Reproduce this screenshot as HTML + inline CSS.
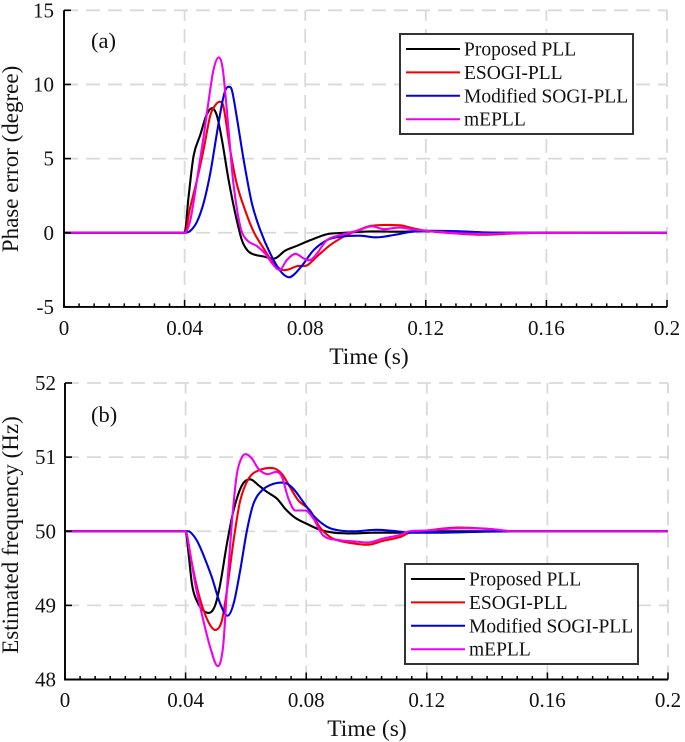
<!DOCTYPE html>
<html>
<head>
<meta charset="utf-8">
<title>PLL comparison</title>
<style>
html,body{margin:0;padding:0;background:#fff;width:685px;height:742px;overflow:hidden}
svg{display:block}
text{font-family:"Liberation Serif",serif;fill:#111;font-size:21px}
</style>
</head>
<body>
<svg id="chart" width="685" height="742" viewBox="0 0 685 742" xmlns="http://www.w3.org/2000/svg">
  <g id="panelA"></g>
  <g id="panelB"></g>
</svg>
<script>
var xTicks = [0, 0.04, 0.08, 0.12, 0.16, 0.2];
var xTickLabels = ['0', '0.04', '0.08', '0.12', '0.16', '0.2'];
var xMinorStep = 0.005;
var phaseTicks = [-5, 0, 5, 10, 15];
var freqTicks = [48, 49, 50, 51, 52];
var seriesNames = ['Proposed PLL', 'ESOGI-PLL', 'Modified SOGI-PLL', 'mEPLL'];
var seriesColors = ['#000000', '#f00000', '#0000e0', '#f000f0'];

var phaseProposedT = [0,.04,.0413,.043,.0452,.0472,.0491,.0507,.0524,.0546,.0568,.059,.0609,.0629,.0662,.07,.0734,.0773,.0817,.0872,.0915,.0971,.1026,.1114,.12,.13,.15,.2];
var phaseProposedV = [0,0,2.4,5.2,6.6,7.9,8.4,7.9,6.25,3.55,1.3,-.5,-1.2,-1.46,-1.6,-1.73,-1.2,-.88,-.5,-.1,-.02,.05,.09,.07,.1,.02,0,0];
var phaseEsogiT = [0,.04,.0419,.0441,.0463,.0485,.0502,.0516,.0529,.0551,.0573,.0601,.0629,.0662,.0695,.0723,.0745,.0773,.0806,.0839,.0883,.0927,.0971,.102,.1114,.1158,.12,.1303,.139,.149,.16,.2];
var phaseEsogiV = [0,0,1.75,3.55,5.6,7.9,8.6,8.83,8.5,5.6,3.3,1.5,.07,-1.05,-2.07,-2.5,-2.47,-2.25,-2.2,-1.6,-.83,-.27,.13,.47,.5,.3,.13,-.05,-.13,-.05,0,0];
var phaseModifiedT = [0,.04,.0419,.0441,.0463,.0485,.0507,.0524,.0535,.0546,.0557,.0573,.0596,.0623,.0651,.0684,.0717,.0745,.0767,.0795,.0828,.0872,.0915,.0982,.1037,.1092,.1148,.12,.13,.14,.15,.2];
var phaseModifiedV = [0,0,.13,.74,2,4,6.7,8.7,9.6,9.84,9.6,7.8,4.9,2,.18,-1.4,-2.56,-3,-2.74,-2.07,-1.17,-.5,-.27,-.2,-.31,-.16,.05,.13,.11,.02,0,0];
var phaseMepllT = [0,.04,.0419,.0441,.0463,.048,.0496,.0513,.0527,.0546,.0562,.0585,.0607,.064,.0667,.0695,.0717,.0739,.0767,.0795,.0817,.0839,.0872,.0916,.0971,.102,.1059,.1114,.1158,.12,.13,.14,.15,.2];
var phaseMepllV = [0,0,.85,3.55,6.47,8.94,11,11.82,10.97,6.9,3.3,.4,-.5,-.9,-1.4,-2.18,-2.5,-1.84,-1.42,-1.73,-1.84,-1.4,-.5,-.16,.13,.43,.25,.35,.22,.13,-.03,-.08,-.02,0];

var freqProposedT = [0,.04,.041,.0421,.0432,.0454,.048,.0498,.0515,.0537,.0559,.0587,.0614,.0642,.067,.0703,.0731,.0764,.0802,.0846,.0891,.0957,.102,.11,.12,.2];
var freqProposedV = [50,50,49.69,49.29,49.11,48.95,48.9,49,49.29,49.83,50.28,50.62,50.7,50.62,50.53,50.44,50.3,50.18,50.1,50.02,49.98,49.97,49.98,49.98,50,50];
var freqEsogiT = [0,.04,.0415,.0438,.046,.0482,.0501,.052,.0537,.0559,.0581,.0609,.0642,.0692,.072,.0747,.0775,.0813,.0846,.088,.0911,.0967,.101,.1054,.111,.1143,.12,.1299,.1409,.1486,.2];
var freqEsogiV = [50,50,49.69,49.24,48.93,48.73,48.67,48.79,49.2,49.87,50.41,50.71,50.82,50.85,50.77,50.59,50.41,50.28,50.05,49.92,49.87,49.83,49.82,49.87,49.92,49.98,50.01,50.05,50.03,50,50];
var freqModifiedT = [0,.04,.0415,.0438,.046,.0487,.0515,.0539,.0559,.0581,.0603,.0625,.0653,.0692,.0731,.0758,.0791,.0824,.0869,.0911,.0967,.1032,.11,.1143,.1243,.135,.15,.2];
var freqModifiedV = [50,50,49.99,49.87,49.67,49.38,49.02,48.86,49.02,49.47,50,50.37,50.55,50.64,50.65,50.57,50.39,50.21,50.06,50.01,50,50.02,50,49.98,49.98,49.99,50,50];
var freqMepllT = [0,.04,.041,.0432,.0454,.0482,.0507,.0524,.0537,.0554,.057,.0587,.0601,.062,.0642,.067,.0703,.072,.0741,.0764,.0797,.0824,.0857,.0911,.0967,.101,.1054,.111,.1143,.12,.13,.141,.1486,.2];
var freqMepllV = [50,50,49.83,49.29,48.88,48.43,48.18,48.43,49.2,50.14,50.77,51,51.04,50.98,50.84,50.77,50.8,50.73,50.44,50.28,50.28,50.17,49.94,49.88,49.86,49.85,49.9,49.95,50,50.01,50.04,50.03,50,50];

var NS = 'http://www.w3.org/2000/svg';
function mk(parent, tag, attrs, txt) {
  var el = document.createElementNS(NS, tag);
  for (var k in attrs) el.setAttribute(k, attrs[k]);
  if (txt !== undefined) el.textContent = txt;
  parent.appendChild(el);
  return el;
}
function smoothPath(ts, vs, sx, sy) {
  var p = ts.map(function (t, i) { return [sx(t), sy(vs[i])]; });
  var d = 'M' + p[0][0].toFixed(2) + ' ' + p[0][1].toFixed(2);
  for (var i = 0; i < p.length - 1; i++) {
    var a = p[Math.max(i - 1, 0)], b = p[i], c = p[i + 1], e = p[Math.min(i + 2, p.length - 1)];
    var dx = c[0] - b[0];
    var m1 = (c[1] - a[1]) / Math.max(c[0] - a[0], .01);
    var m2 = (e[1] - b[1]) / Math.max(e[0] - b[0], .01);
    if (i === 0 || b[1] === a[1]) m1 = 0;
    if (c[1] === e[1]) m2 = 0;
    if (b[1] === c[1]) { m1 = 0; m2 = 0; }
    d += 'C' + (b[0] + dx / 3).toFixed(2) + ' ' + (b[1] + m1 * dx / 3).toFixed(2) + ' ' +
      (c[0] - dx / 3).toFixed(2) + ' ' + (c[1] - m2 * dx / 3).toFixed(2) + ' ' +
      c[0].toFixed(2) + ' ' + c[1].toFixed(2);
  }
  return d;
}
function drawPanel(cfg) {
  var g = cfg.group;
  var sx = function (t) { return cfg.x0 + (t / 0.2) * (cfg.x1 - cfg.x0); };
  var sy = function (v) { return cfg.yBottom + (v - cfg.yMin) / (cfg.yMax - cfg.yMin) * (cfg.yTop - cfg.yBottom); };

  xTicks.forEach(function (t) {
    if (t === 0) return;
    var l = mk(g, 'line', { x1: sx(t), x2: sx(t), y1: cfg.yBottom, y2: cfg.yTop, stroke: '#d9d9d9', 'stroke-width': 1.8, 'stroke-dasharray': '14 8' });
    
    
  });
  cfg.yTicks.forEach(function (v) {
    if (v === cfg.yMin) return;
    var l = mk(g, 'line', { x1: cfg.x0, x2: cfg.x1, y1: sy(v), y2: sy(v), stroke: '#d9d9d9', 'stroke-width': 1.8, 'stroke-dasharray': '14 8' });
    
    
  });

  cfg.series.forEach(function (s, i) {
    var p = mk(g, 'path', { d: smoothPath(s[0], s[1], sx, sy), fill: 'none', stroke: seriesColors[i], 'stroke-width': 2.1, 'stroke-linejoin': 'round' });
    
    
  });

  var ax = mk(g, 'path', { d: 'M' + cfg.x0 + ' ' + cfg.yTop + 'V' + cfg.yBottom + 'H' + cfg.x1, fill: 'none', stroke: '#000', 'stroke-width': 1.9 });
  
  

  for (var k = 0; k * xMinorStep <= 0.2001; k++) {
    var tv = k * xMinorStep;
    var major = k % 8 === 0;
    var tk = mk(g, 'line', { x1: sx(tv), x2: sx(tv), y1: cfg.yBottom, y2: cfg.yBottom - (major ? 7 : 3.5), stroke: '#000', 'stroke-width': 1.5 });
    
    
  }
  xTicks.forEach(function (t, i) {
    var lb = mk(g, 'text', { x: sx(t), y: cfg.xLabelY, 'text-anchor': 'middle' }, xTickLabels[i]);
    
    
  });
  cfg.yTicks.forEach(function (v) {
    var tk = mk(g, 'line', { x1: cfg.x0, x2: cfg.x0 + 7, y1: sy(v), y2: sy(v), stroke: '#000', 'stroke-width': 1.6 });
    
    
    var lb = mk(g, 'text', { x: cfg.yLabelX, y: sy(v) + 7, 'text-anchor': 'end' }, String(v));
    
    
  });

  var yt = mk(g, 'text', { x: 0, y: 0, 'text-anchor': 'middle', transform: 'translate(' + cfg.yTitleX + ' ' + cfg.yTitleY + ') rotate(-90)' }, cfg.yTitle);
  
  
  yt.style.fontSize = '23px';
  var xt = mk(g, 'text', { x: cfg.xTitleX, y: cfg.xTitleY, 'text-anchor': 'middle' }, 'Time (s)');
  
  
  xt.style.fontSize = '23.5px';
  var pl = mk(g, 'text', { x: cfg.panelX, y: cfg.panelY }, cfg.panelLabel);
  
  
  pl.style.fontSize = '22.5px';

  var lg = mk(g, 'g', {});
  
  
  mk(lg, 'rect', { x: cfg.lx, y: cfg.ly, width: 233, height: 100, fill: '#fff', stroke: '#333', 'stroke-width': 2 });
  seriesNames.forEach(function (n, i) {
    var yy = cfg.ly + 15 + i * 23.4;
    var ll = mk(lg, 'line', { x1: cfg.lx + 6, x2: cfg.lx + 60, y1: yy, y2: yy, stroke: seriesColors[i], 'stroke-width': 2 });
    
    
    var lt = mk(lg, 'text', { x: cfg.lx + 64, y: yy + 6.5 }, n);
    
    
    lt.style.fontSize = '19.5px';
  });
}
drawPanel({
  group: document.getElementById('panelA'),
  x0: 64, x1: 667, yTop: 10.3, yBottom: 306.9, yMin: -5, yMax: 15,
  yTicks: phaseTicks, xLabelY: 335, yLabelX: 54,
  yTitle: 'Phase error (degree)', yTitleX: 18, yTitleY: 159,
  xTitleX: 369, xTitleY: 364,
  panelLabel: '(a)', panelX: 91, panelY: 48,
  lx: 400, ly: 34,
  series: [[phaseProposedT, phaseProposedV], [phaseEsogiT, phaseEsogiV], [phaseModifiedT, phaseModifiedV], [phaseMepllT, phaseMepllV]]
});
drawPanel({
  group: document.getElementById('panelB'),
  x0: 65, x1: 668, yTop: 383, yBottom: 679.5, yMin: 48, yMax: 52,
  yTicks: freqTicks, xLabelY: 707, yLabelX: 56,
  yTitle: 'Estimated frequency (Hz)', yTitleX: 18, yTitleY: 535,
  xTitleX: 367, xTitleY: 736,
  panelLabel: '(b)', panelX: 91, panelY: 422,
  lx: 405, ly: 564,
  series: [[freqProposedT, freqProposedV], [freqEsogiT, freqEsogiV], [freqModifiedT, freqModifiedV], [freqMepllT, freqMepllV]]
});
</script>
</body>
</html>
